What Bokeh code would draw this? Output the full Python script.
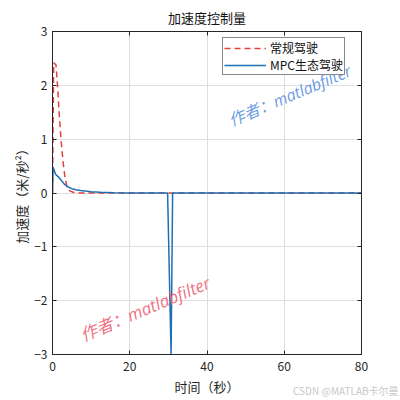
from bokeh.plotting import figure
from bokeh.models import Range1d, LinearAxis, Label, Legend, LegendItem, FixedTicker, Div
from bokeh.layouts import column
from bokeh.embed import file_html
from bokeh.resources import INLINE

# ---- data ----
conv_t = [0, 0.3, 0.9, 1.3, 1.7, 2.2, 2.7, 3.2, 3.8, 4.5, 5.5, 7, 30, 31, 80]
conv_a = [0.0, 2.42, 2.38, 2.0, 1.5, 1.0, 0.6, 0.3, 0.1, 0.04, 0.01, 0.0, 0.0, 0.0, 0.0]

mpc_t = [0, 0.15, 0.8, 1.5, 2.1, 3.0, 3.8, 5.0, 6.0, 7.3, 8.5, 10, 12.4, 16, 20, 29.8, 30.7, 31.1, 80]
mpc_a = [0.0, 0.48, 0.35, 0.3, 0.25, 0.17, 0.12, 0.08, 0.06, 0.045, 0.035, 0.025, 0.012, 0.005, 0.0, 0.0, -3.0, 0.0, 0.0]

x_ticks = [0, 20, 40, 60, 80]
y_ticks = [-3, -2, -1, 0, 1, 2, 3]

title_text = "加速度控制量"
x_label = "时间（秒）"
y_label = "加速度（米/秒²）"
legend_names = ["常规驾驶", "MPC生态驾驶"]
watermark = "作者：matlabfilter"
csdn_mark = "CSDN @MATLAB卡尔曼"

RED = "#e2403a"
BLUE = "#1f6fb4"
FONT = "Noto Sans CJK SC"
AX = "#262626"

p = figure(frame_width=309, frame_height=323, output_backend="svg", toolbar_location=None,
           x_range=Range1d(0, 80), y_range=Range1d(-3, 3),
           min_border_left=52, min_border_right=23, min_border_top=31, min_border_bottom=30)
p.title.text = title_text
p.title.align = "center"
p.title.text_font = FONT
p.title.text_font_size = "13px"
p.title.text_font_style = "normal"
p.title.text_color = "#111111"
p.title.standoff = 10

p.outline_line_color = AX
p.outline_line_width = 1

for ax in [p.xaxis[0], p.yaxis[0]]:
    ax.major_tick_in = 4
    ax.major_tick_out = 0
    ax.minor_tick_in = 0
    ax.minor_tick_out = 0
    ax.axis_line_color = AX
    ax.major_tick_line_color = AX
    ax.major_label_text_font = FONT
    ax.major_label_text_font_size = "12px"
    ax.major_label_text_color = AX
    ax.axis_label_text_font = FONT
    ax.axis_label_text_font_size = "13px"
    ax.axis_label_text_font_style = "normal"
    ax.axis_label_text_color = AX
p.xaxis[0].ticker = FixedTicker(ticks=x_ticks)
p.yaxis[0].ticker = FixedTicker(ticks=y_ticks)
p.xaxis[0].axis_label = x_label
p.yaxis[0].axis_label = y_label
p.xaxis[0].major_label_standoff = 7
p.yaxis[0].major_label_standoff = 5
p.xaxis[0].axis_label_standoff = 3
p.yaxis[0].axis_label_standoff = 0

# mirrored ticks (top/right), no labels
top = LinearAxis(ticker=FixedTicker(ticks=x_ticks),
                 major_label_overrides={t: "" for t in x_ticks}, major_label_standoff=3,
                 major_tick_in=4, major_tick_out=0, minor_tick_in=0, minor_tick_out=0,
                 axis_line_color=AX, major_tick_line_color=AX)
right = LinearAxis(ticker=FixedTicker(ticks=y_ticks),
                   major_label_overrides={t: "" for t in y_ticks}, major_label_standoff=0,
                   major_tick_in=4, major_tick_out=0, minor_tick_in=0, minor_tick_out=0,
                   axis_line_color=AX, major_tick_line_color=AX)
p.add_layout(top, "above")
p.add_layout(right, "right")

p.xgrid.ticker = FixedTicker(ticks=x_ticks)
p.ygrid.ticker = FixedTicker(ticks=y_ticks)
p.grid.grid_line_color = "#dedede"
p.grid.grid_line_width = 1

r1 = p.line(conv_t, conv_a, line_color=RED, line_width=1.5, line_dash="6 4")
r2 = p.line(mpc_t, mpc_a, line_color=BLUE, line_width=1.5)

legend = Legend(items=[LegendItem(label=legend_names[0], renderers=[r1]),
                       LegendItem(label=legend_names[1], renderers=[r2])],
                location=(170, 279))
legend.margin = 0
legend.padding = 1
legend.spacing = 0
legend.glyph_width = 42
legend.glyph_height = 14
legend.label_height = 14
legend.label_standoff = 4
legend.label_text_font = FONT
legend.label_text_font_size = "12px"
legend.label_text_color = "#111111"
legend.border_line_color = "#111111"
legend.border_line_width = 1
legend.background_fill_alpha = 1
p.add_layout(legend)

p.add_layout(Label(x=46.9, y=1.15, text=watermark, angle=0.40,
                   text_font="Open Sans, Noto Sans CJK SC",
                   text_font_size="16px", text_font_style="italic", level="overlay",
                   text_color="#5a8ee0", text_alpha=0.9))
p.add_layout(Label(x=8.5, y=-2.85, text=watermark, angle=0.40,
                   text_font="Open Sans, Noto Sans CJK SC",
                   text_font_size="17px", text_font_style="italic", level="overlay",
                   text_color="#f06070", text_alpha=0.9))

mark = Div(text=csdn_mark, width=100, height=8, margin=(-11, 0, 0, 293),
           styles={"font-size": "10px", "color": "#c8c8c8", "font-family": FONT,
                   "white-space": "nowrap", "line-height": "8px", "overflow": "visible"})

layout = column(p, mark, spacing=0)
open("out.html", "w").write(file_html(layout, INLINE))
